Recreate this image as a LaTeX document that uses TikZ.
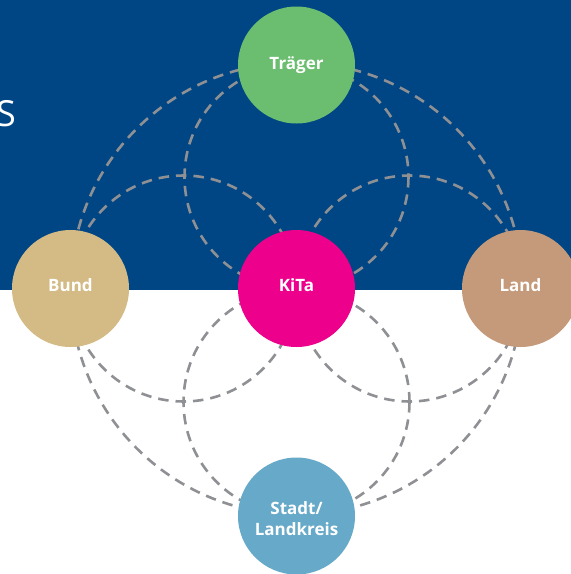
\documentclass[tikz,border=0pt]{standalone}
\usepackage{fontspec}
\setmainfont{Open Sans}
\definecolor{bgblue}{HTML}{004684}
\definecolor{cgreen}{HTML}{6BBE70}
\definecolor{ctan}{HTML}{D4BA84}
\definecolor{cmag}{HTML}{EC008C}
\definecolor{cland}{HTML}{C49A7A}
\definecolor{cstadt}{HTML}{67A9C8}
\definecolor{dashgray}{HTML}{8E9094}
\newcommand{\basetext}[2]{\raisebox{#1}[0pt][0pt]{#2}}
\tikzset{
  actor/.style={circle, minimum size=117pt, inner sep=0pt, text=white,
    font=\fontsize{17pt}{21pt}\selectfont\bfseries, align=center},
  ring/.style={draw=dashgray, line width=2.6pt, dash pattern=on 10.5pt off 7pt}
}
\begin{document}
\begin{tikzpicture}[x=1pt,y=-1pt]
\useasboundingbox (0,0) rectangle (571,574);
\begin{scope}
\clip (0,0) rectangle (571,574);
\fill[bgblue] (0,0) rectangle (571,290);
\node[anchor=base east, inner sep=0pt, text=white, font=\fontsize{36pt}{40pt}\selectfont] (s) at (16,126) {S};
% dashed rings
\coordinate (c) at (296.5,288.5);
\draw[ring] (c) circle[radius=226];
\draw[ring] (296.5,177) circle[radius=112];
\draw[ring] (296.5,402) circle[radius=113];
\draw[ring] (183.5,288.5) circle[radius=113];
\draw[ring] (409.5,288.5) circle[radius=113];
% nodes
\node[actor, fill=cgreen] (traeger) at (296.5,65) {\basetext{-4pt}{Träger}};
\node[actor, fill=ctan] (bund) at (70.5,288.5) {\basetext{-2.5pt}{Bund}};
\node[actor, fill=cmag] (kita) at (296.5,288.5) {\basetext{-2.5pt}{KiTa}};
\node[actor, fill=cland] (land) at (520.5,288.5) {\basetext{-2.5pt}{Land}};
\node[actor, fill=cstadt] (stadt) at (296.5,516) {\basetext{-19pt}{\begin{tabular}[b]{@{}c@{}}Stadt/\\Landkreis\end{tabular}}};
\end{scope}
\end{tikzpicture}
\end{document}
